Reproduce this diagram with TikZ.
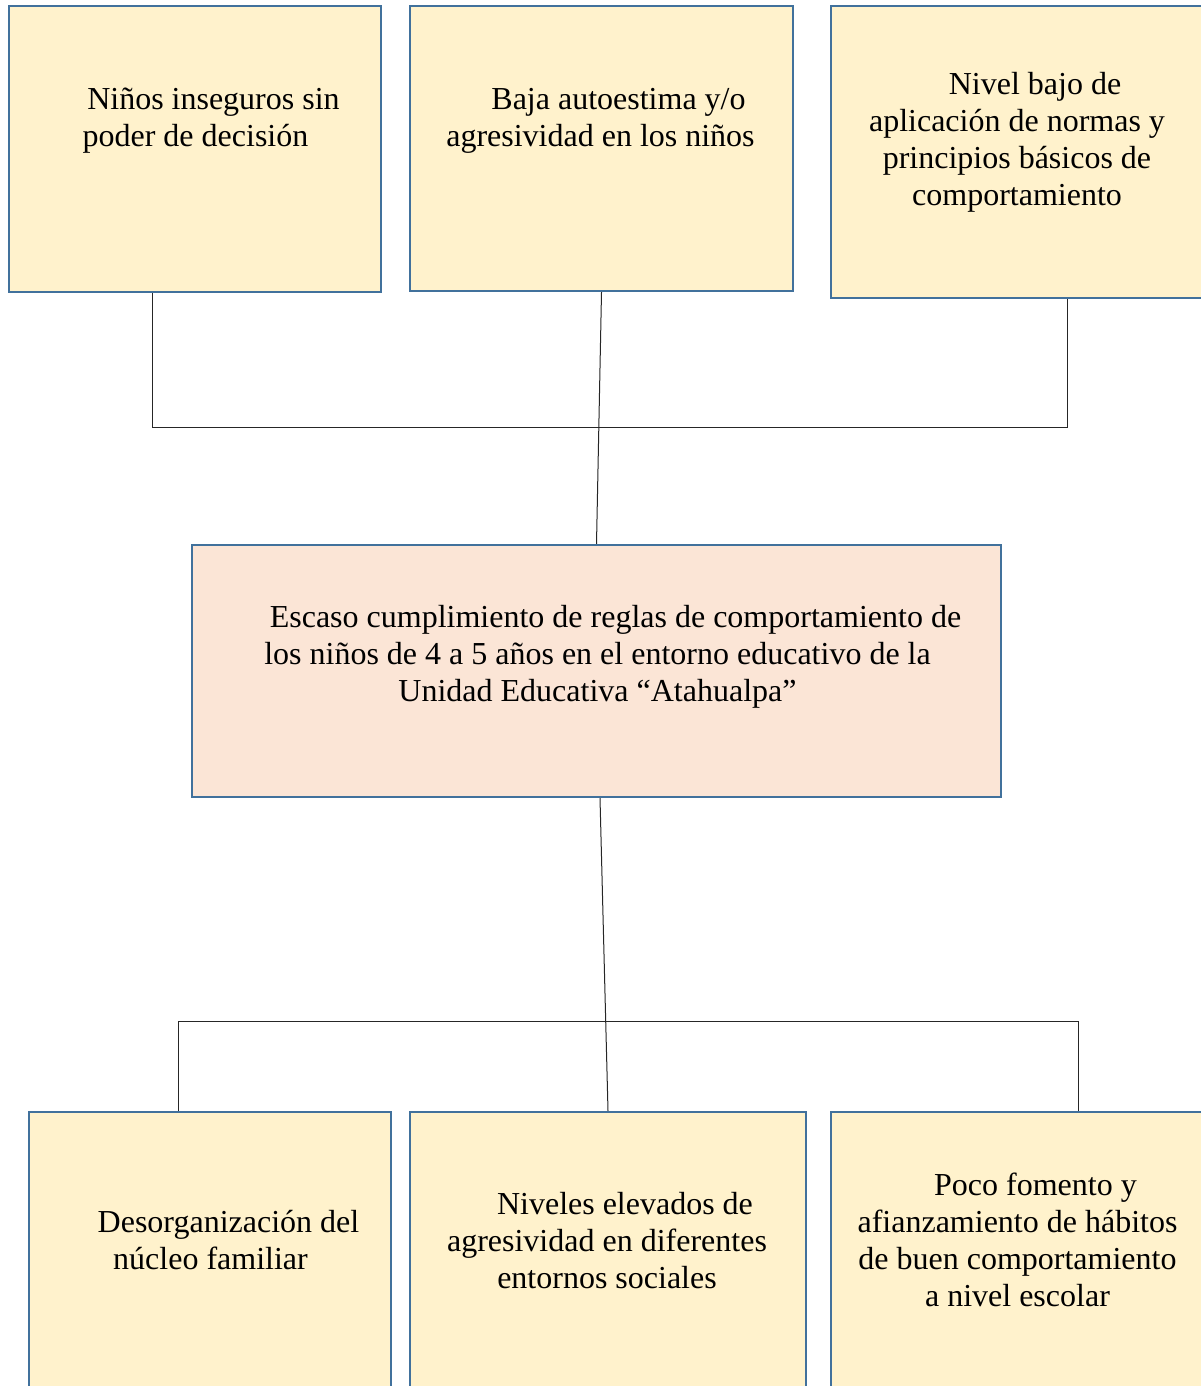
\documentclass[tikz,border=0pt]{standalone}
\usepackage{fontspec}
\setmainfont{Liberation Serif}
\usetikzlibrary{positioning}
\definecolor{boxblue}{HTML}{41719C}
\definecolor{yellowfill}{HTML}{FFF2CC}
\definecolor{pinkfill}{HTML}{FBE5D6}
\newcommand{\ind}{\hspace*{36pt}}

\begin{document}
\begin{tikzpicture}[x=1pt,y=-1pt,thin]
\tikzstyle{box}=[draw=boxblue,line width=2.2pt,fill=yellowfill,shape=rectangle,inner sep=0pt]
\tikzstyle{txt}=[align=center,font=\fontsize{32}{37}\selectfont,inner sep=0pt,text=black]
\tikzstyle{conn}=[draw=black!85,line width=1pt]
\useasboundingbox (0,0) rectangle (1200,1386);

% effects
\node[box]          (A) [minimum width=372pt,minimum height=286pt] at (195,149) {};
\node[box]          (B) [minimum width=383pt,minimum height=285pt] at (601.5,148.5) {};
\node[box]          (C) [minimum width=400pt,minimum height=292pt] at (1031,152) {};
% problem
\node[box]          (M) [minimum width=809pt,minimum height=252pt,fill=pinkfill] at (596.5,671) {};
% causes
\node[box]          (D) [minimum width=362pt,minimum height=308pt] at (210,1266) {};
\node[box]          (E) [minimum width=396pt,minimum height=308pt] at (608,1266) {};
\node[box]          (F) [minimum width=400pt,minimum height=308pt] at (1031,1266) {};

\node[txt]          (tA) at (195.5,121) {\ind Niños inseguros sin\\poder de decisión};
\node[txt]          (tB) at (600.5,121) {\ind Baja autoestima y/o\\agresividad en los niños};
\node[txt]          (tC) at (1017,142) {\ind Nivel bajo de\\aplicación de normas y\\principios básicos de\\comportamiento};
\node[txt]          (tM) at (597.5,657) {\ind Escaso cumplimiento de reglas de comportamiento de\\los niños de 4 a 5 años en el entorno educativo de la\\Unidad Educativa “Atahualpa”};
\node[txt]          (tD) at (210.5,1240) {\ind Desorganización del\\núcleo familiar};
\node[txt]          (tE) at (607,1241) {\ind Niveles elevados de\\agresividad en diferentes\\entornos sociales};
\node[txt]          (tF) at (1017.5,1240) {\ind Poco fomento y\\afianzamiento de hábitos\\de buen comportamiento\\a nivel escolar};

\coordinate (jA) at (152,427);
\coordinate (jC) at (1067,427);
\coordinate (jD) at (178,1021);
\coordinate (jF) at (1078,1021);

\draw[conn] (A.south -| jA) -- (jA) -- (jC) -- (C.south -| jC);
\draw[conn] (D.north -| jD) -- (jD) -- (jF) -- (F.north -| jF);
\path[conn]
(B.south) edge (M.north)
([xshift=3.5pt]M.south) edge (E.north)
;
\end{tikzpicture}
\end{document}
